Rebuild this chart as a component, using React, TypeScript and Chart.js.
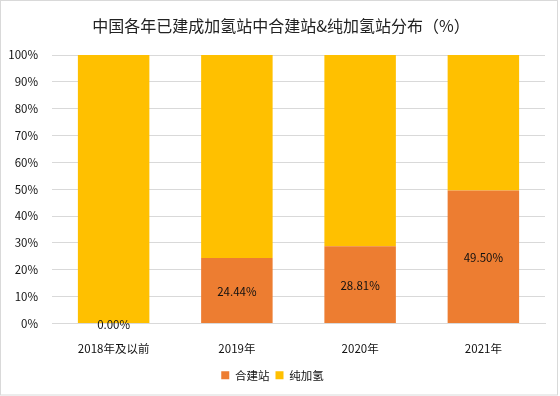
import React, { useEffect, useRef } from "react";
import { Chart, registerables } from "chart.js";

Chart.register(...registerables);

const TITLE = "中国各年已建成加氢站中合建站&纯加氢站分布（%）";
const categories = ["2018年及以前", "2019年", "2020年", "2021年"];
const combinedShare = [0.0, 24.44, 28.81, 49.5];
const pureShare = [100.0, 75.56, 71.19, 50.5];
const seriesNames = ["合建站", "纯加氢"];
const FONT = "'Noto Sans CJK SC', 'Noto Sans', sans-serif";

const decorPlugin = {
  id: "decor",
  beforeDraw(chart: any) {
    const ctx = chart.ctx;
    ctx.save();
    ctx.fillStyle = "#ffffff";
    ctx.fillRect(0, 0, chart.width, chart.height);
    ctx.strokeStyle = "#d9d9d9";
    ctx.lineWidth = 1;
    ctx.strokeRect(0.5, 0.5, chart.width - 3, chart.height - 1.5);
    ctx.fillStyle = "#222222";
    ctx.font = `16px ${FONT}`;
    ctx.textAlign = "center";
    ctx.textBaseline = "middle";
    ctx.fillText(TITLE, chart.width / 2 + 1, 26);
    ctx.restore();
  },
  afterDatasetsDraw(chart: any) {
    const ctx = chart.ctx;
    const meta = chart.getDatasetMeta(0);
    ctx.save();
    ctx.fillStyle = "#111111";
    ctx.font = `11.5px ${FONT}`;
    ctx.textAlign = "center";
    ctx.textBaseline = "middle";
    meta.data.forEach((el: any, i: number) => {
      const v = combinedShare[i];
      ctx.fillText(v.toFixed(2) + "%", el.x, (el.y + el.base) / 2 + 1);
    });
    ctx.restore();
  },
};

export default function App() {
  const ref = useRef<HTMLCanvasElement>(null);
  useEffect(() => {
    document.body.style.margin = "0";
    const chart = new Chart(ref.current!, {
      type: "bar",
      data: {
        labels: categories,
        datasets: [
          { label: seriesNames[0], data: combinedShare, backgroundColor: "#ED7D31", categoryPercentage: 0.58, barPercentage: 1 },
          { label: seriesNames[1], data: pureShare, backgroundColor: "#FFC000", categoryPercentage: 0.58, barPercentage: 1 },
        ],
      },
      options: {
        animation: false,
        responsive: false,
        maintainAspectRatio: false,
        layout: { padding: { top: 55, right: 15, left: 0, bottom: 5 } },
        scales: {
          x: {
            stacked: true,
            grid: { display: false },
            border: { color: "#d9d9d9" },
            ticks: { color: "#111", font: { family: FONT, size: 11.5 }, padding: 10 },
            afterFit(scale: any) { scale.height = 40; },
          },
          y: {
            stacked: true,
            min: 0,
            max: 100,
            grid: { color: "#d9d9d9", drawTicks: false },
            border: { display: false },
            ticks: {
              stepSize: 10,
              padding: 14,
              color: "#111",
              font: { family: FONT, size: 11.5 },
              callback: (v: any) => v + "%",
            },
            afterFit(scale: any) { scale.width = 52; },
          },
        },
        plugins: {
          legend: {
            position: "bottom",
            labels: { boxWidth: 8, boxHeight: 8, padding: 6, color: "#111", font: { family: FONT, size: 11.5 } },
          },
          title: { display: false },
          tooltip: { enabled: false },
        },
      },
      plugins: [decorPlugin],
    });
    return () => chart.destroy();
  }, []);
  return <canvas ref={ref} width={560} height={396} style={{ display: "block" }} />;
}
